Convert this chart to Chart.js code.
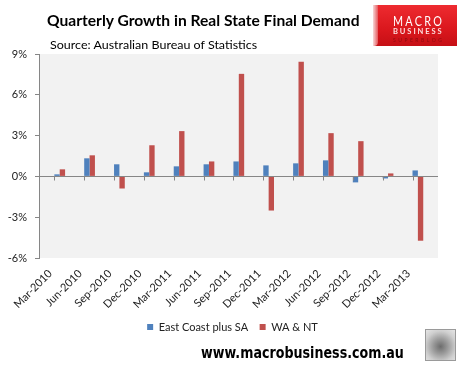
<!DOCTYPE html>
<html>
<head>
<meta charset="utf-8">
<script src="https://cdn.jsdelivr.net/npm/chart.js@4.4.1/dist/chart.umd.min.js"></script>
<style>
  html, body { margin: 0; padding: 0; background: #fff; }
  #wrap { position: relative; width: 465px; height: 367px; overflow: hidden; }
  #wrap canvas { position: absolute; left: 0; top: 0; }
  .txt { position: absolute; white-space: nowrap; transform-origin: 0 0; line-height: 1; }
  #title  { left: 47px; top: 11px; font: bold 15px Lato, sans-serif; color: #000; }
  #source { left: 50px; top: 37px; font: 12px Lato, sans-serif; color: #000; }
  #footer { left: 201px; top: 344px; font: bold 15px "DejaVu Sans", sans-serif; color: #000; }
  #logo { position: absolute; left: 373px; top: 5px; width: 84px; height: 41px;
          background: linear-gradient(180deg, #ee2b30 0%, #da171d 60%, #c50f15 100%); }
  #logo .strip { position: absolute; left: 0; top: 0; width: 5px; height: 41px;
                 background: linear-gradient(90deg, #f7d7d8, #e4575b); border-radius: 0 0 4px 0; }
  #logo .txt { color: #fff; }
  #l1 { left: 20px; top: 7px; font: 14px Lato, sans-serif; letter-spacing: 3px; }
  #l2 { left: 20px; top: 21px; font: bold 8px Lato, sans-serif; letter-spacing: 2px; color: #fcdede !important; }
  #l3 { left: 20px; top: 31px; font: 6px Lato, sans-serif; letter-spacing: 3px; color: #8e0b10 !important; }
  #wolf { position: absolute; left: 425px; top: 329px; width: 29px; height: 30px; border: 1px solid #9a9a9a;
          background: radial-gradient(circle at 50% 55%, #6d6d6d 0%, #9c9c9c 35%, #cfcfcf 70%, #e6e6e6 100%); }
</style>
</head>
<body>
<div id="wrap">
  <canvas id="chart" width="465" height="367"></canvas>
  <div id="title" class="txt" data-w="313">Quarterly Growth in Real State Final Demand</div>
  <div id="source" class="txt" data-w="207">Source: Australian Bureau of Statistics</div>
  <div id="logo">
    <div class="strip"></div>
    <div id="l1" class="txt" data-w="51">MACRO</div>
    <div id="l2" class="txt" data-w="51">BUSINESS</div>
    <div id="l3" class="txt" data-w="51">SUPERBLOG</div>
  </div>
  <div id="footer" class="txt" data-w="203">www.macrobusiness.com.au</div>
  <div id="wolf"></div>
</div>
<script>
// ===== Data =====
const quarters  = ['Mar-2010', 'Jun-2010', 'Sep-2010', 'Dec-2010', 'Mar-2011', 'Jun-2011', 'Sep-2011',
                   'Dec-2011', 'Mar-2012', 'Jun-2012', 'Sep-2012', 'Dec-2012', 'Mar-2013'];
const eastCoast = [0.15, 1.33, 0.89, 0.30, 0.74, 0.89, 1.10, 0.81, 0.96, 1.18, -0.44, -0.15, 0.44];
const waNt      = [0.52, 1.55, -0.89, 2.29, 3.33, 1.10, 7.54, -2.51, 8.43, 3.18, 2.59, 0.22, -4.73];
const yTicks    = [-6, -3, 0, 3, 6, 9];

const AXIS_GREY = '#868686';
const FONT = { family: 'Lato, sans-serif', size: 11 };

// ===== Helpers =====
function fitWidth(el) {
  const w = +el.dataset.w;
  if (w && el.offsetWidth) el.style.transform = `scaleX(${w / el.offsetWidth})`;
}
document.querySelectorAll('[data-w]').forEach(fitWidth);

// grey plot background
const plotBg = {
  id: 'plotBg',
  beforeDraw(chart) {
    const { ctx, chartArea: a } = chart;
    ctx.save();
    ctx.fillStyle = '#f2f2f2';
    ctx.fillRect(a.left, a.top, a.right - a.left, a.bottom - a.top);
    ctx.restore();
  }
};

// zero line + small category ticks hanging from it (drawn over bars, like Excel)
const zeroAxis = {
  id: 'zeroAxis',
  afterDatasetsDraw(chart) {
    const { ctx, chartArea: a, scales: { x, y } } = chart;
    const y0 = Math.round(y.getPixelForValue(0)) + 0.5;
    ctx.save();
    ctx.strokeStyle = AXIS_GREY;
    ctx.lineWidth = 1;
    ctx.beginPath();
    ctx.moveTo(a.left, y0); ctx.lineTo(a.right, y0);
    x.ticks.forEach(t => {
      const px = Math.round(x.getPixelForValue(t.value)) + 0.5;
      ctx.moveTo(px, y0); ctx.lineTo(px, y0 + 4);
    });
    ctx.stroke();
    ctx.restore();
  }
};

const toPoints = arr => arr.map((v, i) => ({ x: i, y: v }));

new Chart(document.getElementById('chart'), {
  type: 'bar',
  data: {
    datasets: [
      // two empty slots so the real bars sit to the right of each tick
      { label: '', data: [] },
      { label: '', data: [] },
      { label: 'East Coast plus SA', data: toPoints(eastCoast), backgroundColor: '#4f81bd' },
      { label: 'WA & NT',            data: toPoints(waNt),      backgroundColor: '#c0504d' }
    ]
  },
  options: {
    responsive: false,
    animation: false,
    categoryPercentage: 0.72,
    barPercentage: 1,
    layout: { padding: { left: 0, right: 0, top: 54, bottom: 24.5 } },
    plugins: {
      tooltip: { enabled: false },
      legend: {
        position: 'bottom',
        labels: {
          filter: item => item.text !== '',
          boxWidth: 6, boxHeight: 6, padding: 11.5,
          font: FONT, color: '#222'
        }
      }
    },
    scales: {
      x: {
        type: 'linear',
        min: 0,
        max: quarters.length - 1 + 0.34,
        grid: { display: false, drawTicks: false },
        border: { display: false },
        afterBuildTicks: s => { s.ticks = quarters.map((q, i) => ({ value: i })); },
        afterFit: s => { s.height = 52; },
        ticks: {
          autoSkip: false, minRotation: 45, maxRotation: 45, padding: 9, labelOffset: -4,
          font: FONT, color: '#222',
          callback: v => quarters[v]
        }
      },
      y: {
        min: yTicks[0],
        max: yTicks[yTicks.length - 1],
        afterBuildTicks: s => { s.ticks = yTicks.map(v => ({ value: v })); },
        afterFit: s => { s.width = 39; },
        border: { color: AXIS_GREY, width: 1 },
        grid: { color: 'transparent', tickColor: AXIS_GREY, tickLength: 4 },
        ticks: { padding: 8, font: FONT, color: '#222', callback: v => v + '%' }
      },
      // empty right-hand strip so the plot ends where the original does
      yRight: {
        position: 'right',
        grid: { display: false },
        border: { display: false },
        ticks: { display: false },
        afterFit: s => { s.width = 27; }
      }
    }
  },
  plugins: [plotBg, zeroAxis]
});
</script>
</body>
</html>
